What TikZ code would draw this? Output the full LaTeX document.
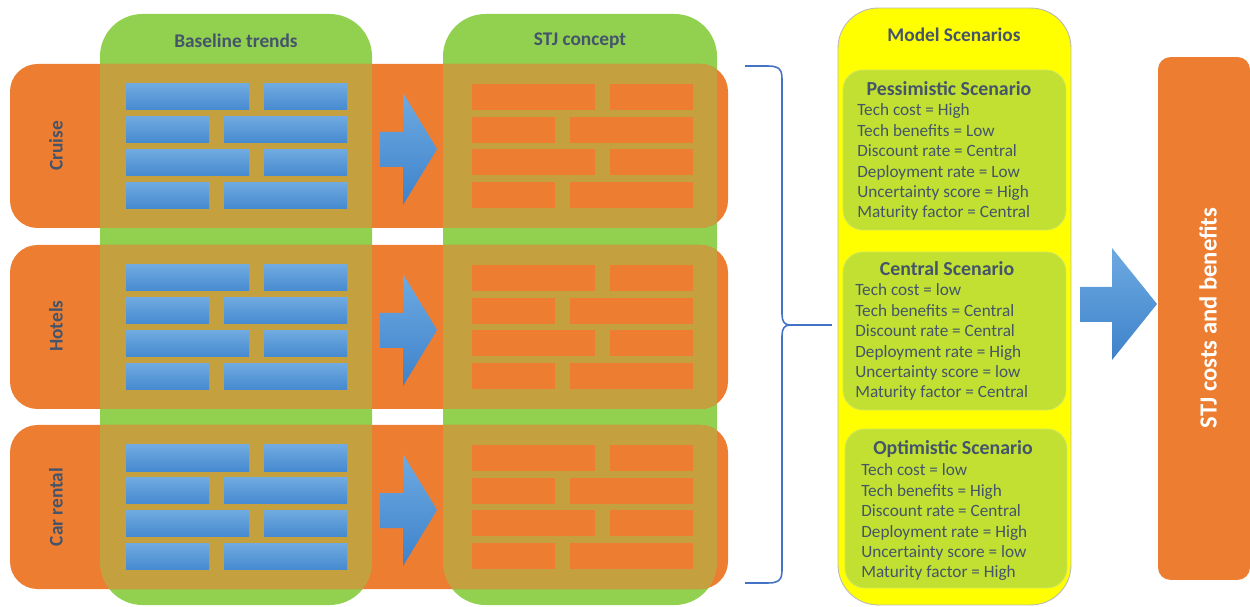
\documentclass[tikz,border=0pt]{standalone}
\usepackage{fontspec}
\setmainfont{Carlito}
\usetikzlibrary{positioning}
\definecolor{rowor}{RGB}{237,125,49}
\definecolor{colgr}{RGB}{146,208,80}
\definecolor{mixol}{RGB}{196,160,62}
\definecolor{brickhi}{RGB}{112,170,224}
\definecolor{bricklo}{RGB}{70,138,208}
\definecolor{arrhi}{RGB}{110,170,226}
\definecolor{arrlo}{RGB}{62,130,202}
\definecolor{ink}{RGB}{68,84,106}
\definecolor{panel}{RGB}{255,255,0}
\definecolor{scen}{RGB}{194,224,50}
\definecolor{bracecol}{RGB}{68,114,196}
\tikzset{
  colbox/.style={fill=colgr, rounded corners=0.85cm},
  rowband/.style={fill=rowor, rounded corners=0.55cm},
  mixband/.style={fill=mixol, rounded corners=0.55cm},
  bluebrick/.style={top color=brickhi, bottom color=bricklo},
  redbrick/.style={fill=rowor},
  bluearrow/.style={top color=arrhi, bottom color=arrlo},
  headtext/.style={text=ink, font=\fontsize{11}{13}\selectfont\bfseries, inner sep=0},
  panelbox/.style={fill=panel, draw=gray!55, line width=0.5pt, rounded corners=0.8cm},
  scenbox/.style={fill=scen, draw=scen!80!white, line width=0.5pt, rounded corners=0.4cm},
  scentitle/.style={text=ink, font=\fontsize{11.3}{13}\selectfont\bfseries, inner sep=0},
  scenline/.style={text=ink, font=\fontsize{9.8}{11.7}\selectfont, inner sep=0,
    anchor=west, text height=7pt, text depth=2pt},
  costbox/.style={fill=rowor, rounded corners=0.25cm},
  costlabel/.style={text=white, font=\fontsize{14}{16}\selectfont\bfseries, inner sep=0},
  bracel/.style={draw=bracecol, line width=0.9pt}
}
\begin{document}
\begin{tikzpicture}[x=0.02cm, y=-0.02cm]
\useasboundingbox (0,0) rectangle (1250,607);

% green columns
\fill[colbox] (100,14) rectangle (372,605);
\fill[colbox] (443,14) rectangle (717,605);
\node[headtext] (bt) at (236,41) {Baseline trends};
\node[headtext] (sc) at (580,41) {STJ concept};

% market rows
\foreach \dy in {0,181,361} {
  \fill[rowband] (10,64+\dy) rectangle (728,228+\dy);
  \begin{scope}
    \clip[rounded corners=0.85cm] (100,14) rectangle (372,605);
    \fill[mixband] (10,64+\dy) rectangle (728,228+\dy);
  \end{scope}
  \begin{scope}
    \clip[rounded corners=0.85cm] (443,14) rectangle (717,605);
    \fill[mixband] (10,64+\dy) rectangle (728,228+\dy);
  \end{scope}
  % bricks
  \foreach \xa/\xb/\r in {126/249/0, 264/347/0, 126/209/1, 224/347/1,
                          126/249/2, 264/347/2, 126/209/3, 224/347/3} {
    \path[bluebrick] (\xa,84+\dy+32.7*\r) rectangle (\xb,110+\dy+32.7*\r);
    \fill[redbrick] (\xa+346,84+\dy+32.7*\r) rectangle (\xb+346,110+\dy+32.7*\r);
  }
  % arrow
  \path[bluearrow] (380,132+\dy) -- (403,132+\dy) -- (403,93+\dy) -- (437,149+\dy)
    -- (403,205+\dy) -- (403,167+\dy) -- (380,167+\dy) -- cycle;
}
\node[headtext, rotate=90] (cr) at (56,146) {Cruise};
\node[headtext, rotate=90] (ho) at (56,326) {Hotels};
\node[headtext, rotate=90] (ca) at (56,507) {Car rental};

% model scenarios
\node[panelbox, minimum width=4.66cm, minimum height=11.94cm] (ms) at (954.5,306.5) {};
\node[headtext] (mst) at (954,35) {Model Scenarios};

\node[scenbox, minimum width=4.46cm, minimum height=3.2cm] (pess) at (954.5,150) {};
\node[scentitle] (pesst) at (949,89) {Pessimistic Scenario};
\foreach \t [count=\i] in {Tech cost = High, Tech benefits = Low, Discount rate = Central,
    Deployment rate = Low, Uncertainty score = High, Maturity factor = Central}
  \node[scenline] (pl\i) at (857,{111.5+20.4*(\i-1)}) {\t};

\node[scenbox, minimum width=4.46cm, minimum height=3.16cm] (cent) at (954.5,331) {};
\node[scentitle] (centt) at (947,269) {Central Scenario};
\foreach \t [count=\i] in {Tech cost = low, Tech benefits = Central, Discount rate = Central,
    Deployment rate = High, Uncertainty score = low, Maturity factor = Central}
  \node[scenline] (cl\i) at (855,{291.5+20.4*(\i-1)}) {\t};

\node[scenbox, minimum width=4.44cm, minimum height=3.18cm] (opti) at (956,508.5) {};
\node[scentitle] (optit) at (953,449) {Optimistic Scenario};
\foreach \t [count=\i] in {Tech cost = low, Tech benefits = High, Discount rate = Central,
    Deployment rate = High, Uncertainty score = low, Maturity factor = High}
  \node[scenline] (ol\i) at (861,{471.5+20.4*(\i-1)}) {\t};

% brace
\coordinate (brtop) at (745,66);
\coordinate (brbot) at (745,583);
\coordinate (brtip) at (790,325);
\coordinate (brend) at (832,325);
\draw[bracel] (brtop) -- (768,66) .. controls (782,66) and (782,72) .. (782,82)
  -- (782,314) .. controls (782,321) and (784,325) .. (brtip);
\draw[bracel] (brbot) -- (768,583) .. controls (782,583) and (782,577) .. (782,567)
  -- (782,336) .. controls (782,329) and (784,325) .. (brtip);
\draw[bracel] (brtip) -- (brend);

% result
\path[bluearrow] (1080,287) -- (1112,287) -- (1112,248) -- (1157,304)
  -- (1112,360) -- (1112,322) -- (1080,322) -- cycle;
\node[costbox, minimum width=1.84cm, minimum height=10.46cm] (cost) at (1204,318.5) {};
\node[costlabel, rotate=90] (costt) at (1208,318) {STJ costs and benefits};
\end{tikzpicture}
\end{document}
